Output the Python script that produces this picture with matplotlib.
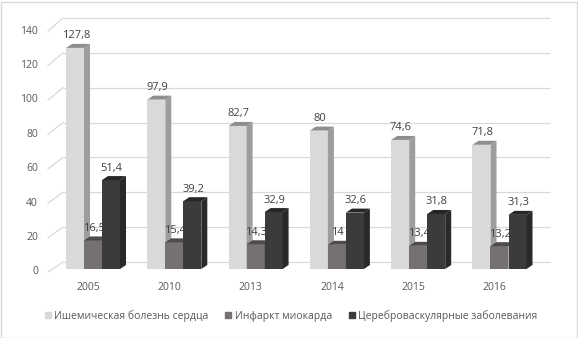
import matplotlib
matplotlib.use("Agg")
import matplotlib.pyplot as plt
from matplotlib.patches import Polygon, Rectangle
from matplotlib.lines import Line2D

plt.rcParams['font.family'] = ['Open Sans', 'DejaVu Sans']

years = ["2005", "2010", "2013", "2014", "2015", "2016"]
ihd = [127.8, 97.9, 82.7, 80, 74.6, 71.8]
mi = [16.5, 15.4, 14.3, 14, 13.4, 13.2]
cvd = [51.4, 39.2, 32.9, 32.6, 31.8, 31.3]
series_names = ["Ишемическая болезнь сердца", "Инфаркт миокарда", "Цереброваскулярные заболевания"]
yticks = [0, 20, 40, 60, 80, 100, 120, 140]

front_cols = ["#d9d9d9", "#767171", "#3b3b3b"]
side_cols = ["#9d9d9d", "#575353", "#292929"]
top_cols = ["#8e8e8e", "#4f4b4b", "#262626"]

W, H = 578, 338
fig = plt.figure(figsize=(W / 100, H / 100), dpi=100)

# pixel-based layout
S = 81.3          # px per category
C0 = 93.0         # px of first group centre
K = 1.73          # px per unit
Y0 = 269.0        # px row of value 0
axL, axR, axT, axB = 10, 575, 5, 300
ax = fig.add_axes([axL / W, 1 - axB / H, (axR - axL) / W, (axB - axT) / H])
ax.set_xlim((axL - C0) / S, (axR - C0) / S)
ax.set_ylim(-(axB - Y0) / K, (Y0 - axT) / K)
ax.axis("off")

def px2x(p):
    return (p - C0) / S

def px2y(p):
    return (Y0 - p) / K

# back wall gridlines + slanted floor edges
gx0, gx1, gfront = px2x(63), px2x(550), px2x(48)
for v in yticks:
    yb = px2y(262 - 1.743 * v)
    yf = px2y(272 - 1.72 * v)
    ax.plot([gx0, gx1], [yb, yb], color="#d9d9d9", lw=0.9, zorder=1, solid_capstyle="butt")
    ax.plot([gfront, gx0], [yf, yb], color="#d9d9d9", lw=0.9, zorder=1)
    ax.text(px2x(38), yf, str(v), ha="right", va="center", fontsize=7.5, color="#595959")

w = 18 / S
dx = 6 / S
dy = 4 / K
series = [ihd, mi, cvd]
for j, vals in enumerate(series):
    base_z = 2 + j * 2
    for i, h in enumerate(vals):
        xl = i - 1.5 * w + j * w
        xr = xl + w
        ax.bar(xl, h, width=w, align="edge", color=front_cols[j], zorder=base_z)
        ax.add_patch(Polygon([(xr, 0), (xr + dx, dy), (xr + dx, h + dy), (xr, h)],
                             closed=True, facecolor=side_cols[j], edgecolor="none", zorder=base_z))
        ax.add_patch(Polygon([(xl, h), (xr, h), (xr + dx, h + dy), (xl + dx, h + dy)],
                             closed=True, facecolor=top_cols[j], edgecolor="none", zorder=base_z))
        lbl = ("%g" % h).replace(".", ",")
        tz = 20 if j != 1 else base_z + 0.5
        ax.text(xl + w / 2 + 0.01, h + 12 / K, lbl, ha="center", va="center",
                fontsize=8, color="#404040", zorder=tz)

for i, y in enumerate(years):
    ax.text(i - 5 / S, px2y(287), y, ha="center", va="center", fontsize=7.5, color="#595959")

handles = [Line2D([], [], marker="s", linestyle="none", markersize=4.5,
                  markerfacecolor=c, markeredgecolor=c) for c in front_cols]
fig.legend(handles, series_names, loc="center", bbox_to_anchor=(291 / W, 1 - 316 / H),
           ncol=3, frameon=False, fontsize=7.5, labelcolor="#595959",
           handlelength=0.6, handletextpad=0.3, columnspacing=1.6, borderpad=0)

fig.patches.append(Rectangle((0.5 / W, 0.5 / H), (W - 2) / W, (H - 2) / H,
                             transform=fig.transFigure, fill=False,
                             edgecolor="#d9d9d9", lw=1))

fig.savefig("out.png", dpi=100)
